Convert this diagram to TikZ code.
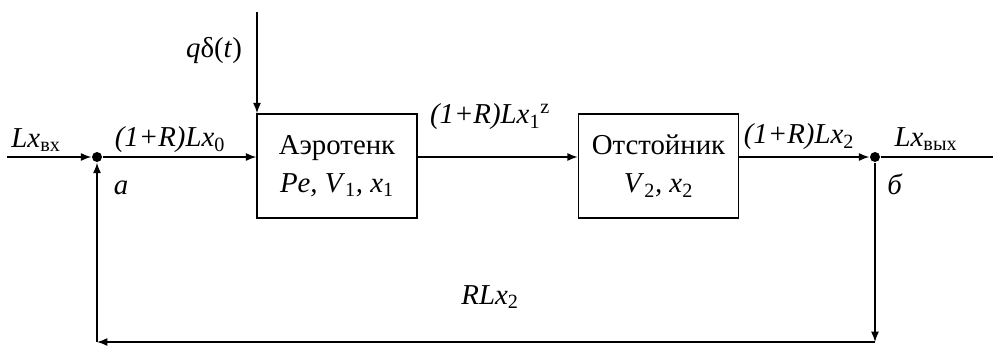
\documentclass[tikz,border=0pt]{standalone}
\usepackage{fontspec}
\setmainfont{Liberation Serif}
\usetikzlibrary{arrows.meta,positioning}

\begin{document}
\begin{tikzpicture}[
    x=0.025cm, y=-0.025cm,
    font=\fontsize{20.5}{27}\selectfont,
    line width=1pt,
    box/.style={draw, align=center, minimum width=4cm, minimum height=2.6cm, inner sep=0pt},
    arrow/.style={-{Latex[length=2.6mm, width=2mm]}},
    dot/.style={circle, fill, inner sep=0pt, minimum size=2.5mm},
    lbl/.style={inner sep=0pt}
]
\useasboundingbox (0,0) rectangle (993,345);

\node[box] (aero) at (337,166) {Аэротенк\\\textit{Pe, V}\textsubscript{1}\textit{, x}\textsubscript{1}};
\node[box, right=4cm of aero] (otst) {Отстойник\\\textit{V}\textsubscript{2}\textit{, x}\textsubscript{2}};

\node[dot] (a) at (97,157) {};
\node[dot] (b) at (875,157) {};
\coordinate (in) at (7,157);
\coordinate (out) at (993,157);
\coordinate (qtop) at (257,12);
\coordinate (br) at (875,342);
\coordinate (bl) at (97,342);

% labels
\node[lbl] (lin) at (36,140) {\textit{Lx}\textsubscript{вх}};
\node[lbl] (l0) at (170,140) {\textit{(1+R)Lx}\textsubscript{0}};
\node[lbl] (la) at (121,188) {\textit{a}};
\node[lbl] (lq) at (214,50) {\textit{q}δ(\textit{t})};
\node[lbl] (l1) at (490,117) {\textit{(1+R)Lx}\textsubscript{1}\textsuperscript{z}};
\node[lbl] (l2) at (799,137) {\textit{(1+R)Lx}\textsubscript{2}};
\node[lbl] (lout) at (926,139) {\textit{Lx}\textsubscript{вых}};
\node[lbl] (lb) at (895,184) {\textit{б}};
\node[lbl] (lr) at (490,297) {\textit{RLx}\textsubscript{2}};

% connections
\draw[arrow] (in) -- (a.west);
\draw[arrow] (a) -- (aero.west |- a);
\draw[arrow] (qtop) -- (qtop |- aero.north);
\draw[arrow] (aero.east |- a) -- (otst.west |- a);
\draw[arrow] (otst.east |- b) -- (b.west);
\draw (b) -- (out);
\draw[arrow] (b) -- (br);
\draw[arrow] (br) -- (bl);
\draw[arrow] (bl) -- (a.south);
\end{tikzpicture}
\end{document}
